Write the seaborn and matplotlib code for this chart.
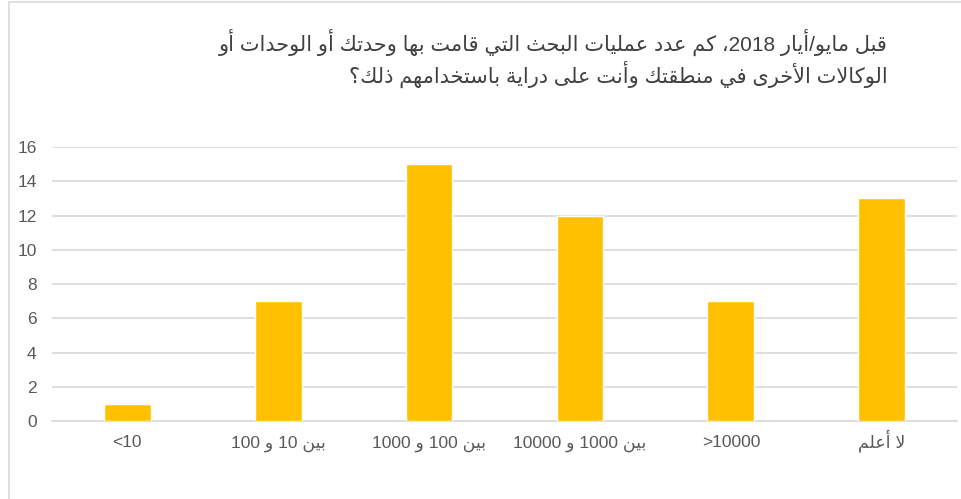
import re
import matplotlib
matplotlib.use("Agg")
import matplotlib.pyplot as plt
from matplotlib.patches import Rectangle
import pandas as pd
import seaborn as sns

## Chart data
categories = ["<10", "بين 10 و 100", "بين 100 و 1000", "بين 1000 و 10000", ">10000", "لا أعلم"]
counts = [1, 7, 15, 12, 7, 13]
title_lines = [
    "قبل مايو/أيار 2018، كم عدد عمليات البحث التي قامت بها وحدتك أو الوحدات أو",
    "الوكالات الأخرى في منطقتك وأنت على دراية باستخدامهم ذلك؟",
]
y_ticks = [0, 2, 4, 6, 8, 10, 12, 14, 16]

## Arabic shaping (matplotlib has no complex text layout)
LETTERS = "آأؤإئابةتثجحخدذرزسشصضطظعغفقكلمنهوىي"
NFORMS = [2, 2, 2, 2, 4, 2, 4, 2, 4, 4, 4, 4, 4, 2, 2, 2, 2,
          4, 4, 4, 4, 4, 4, 4, 4, 4, 4, 4, 4, 4, 4, 4, 2, 2, 4]
FORMS = {}
code = 0xFE81
for ch, n in zip(LETTERS, NFORMS):
    FORMS[ch] = [chr(code + k) for k in range(n)]
    code += n
LAM_ALEF = {"آ": 0xFEF5, "أ": 0xFEF7, "إ": 0xFEF9, "ا": 0xFEFB}


def shape(text):
    out = []
    i = 0
    while i < len(text):
        c = text[i]
        if c not in FORMS:
            out.append(c)
            i += 1
            continue
        prev = text[i - 1] if i > 0 else ""
        prev_joins = prev in FORMS and len(FORMS[prev]) == 4
        nxt = text[i + 1] if i + 1 < len(text) else ""
        if c == "ل" and nxt in LAM_ALEF:
            out.append(chr(LAM_ALEF[nxt] + (1 if prev_joins else 0)))
            i += 2
            continue
        next_joins = nxt in FORMS and len(FORMS[c]) == 4
        f = FORMS[c]
        if prev_joins and next_joins:
            out.append(f[3])
        elif prev_joins:
            out.append(f[1])
        elif next_joins:
            out.append(f[2])
        else:
            out.append(f[0])
        i += 1
    return "".join(out)


def ar(text):
    if not re.search("[\u0600-\u06FF]", text):
        return text
    s = shape(text)
    runs = re.findall(r"[0-9]+|[^0-9]+", s)
    return "".join(r if r[0].isdigit() else r[::-1] for r in reversed(runs))


df = pd.DataFrame({"category": [ar(c) for c in categories], "count": counts})

sns.set_style("white")
plt.rcParams["font.family"] = ["Liberation Sans", "DejaVu Sans"]

fig = plt.figure(figsize=(9.61, 4.99), dpi=100)
ax = fig.add_axes([0.054, 0.1563, 0.942, 0.5491])

sns.barplot(data=df, x="category", y="count", color="#FFC000", width=0.31,
            saturation=1, ax=ax, zorder=3)

ax.set_ylim(0, 16)
ax.set_yticks(y_ticks)
ax.yaxis.grid(True, color="#D9D9D9", linewidth=1.2, zorder=0)
ax.set_axisbelow(True)
for side in ["top", "right", "left"]:
    ax.spines[side].set_visible(False)
ax.spines["bottom"].set_color("#D9D9D9")
ax.spines["bottom"].set_linewidth(1.2)
ax.tick_params(axis="both", length=0, labelsize=12.5, labelcolor="#595959")
ax.tick_params(axis="y", pad=11)
ax.tick_params(axis="x", pad=19)
for lbl in ax.get_xticklabels():
    lbl.set_verticalalignment("baseline")
ax.set_xlabel("")
ax.set_ylabel("")

## Title
fig.text(0.924, 0.914, ar(title_lines[0]), ha="right", va="center",
         fontsize=15, color="#404040")
fig.text(0.924, 0.85, ar(title_lines[1]), ha="right", va="center",
         fontsize=15, color="#404040")

## Chart frame
fig.add_artist(Rectangle((9 / 961, -0.1), 1.2, 1.1 - 2 / 499,
                         transform=fig.transFigure, fill=False,
                         edgecolor="#D9D9D9", linewidth=1.2))

fig.savefig("out.png", dpi=100)
